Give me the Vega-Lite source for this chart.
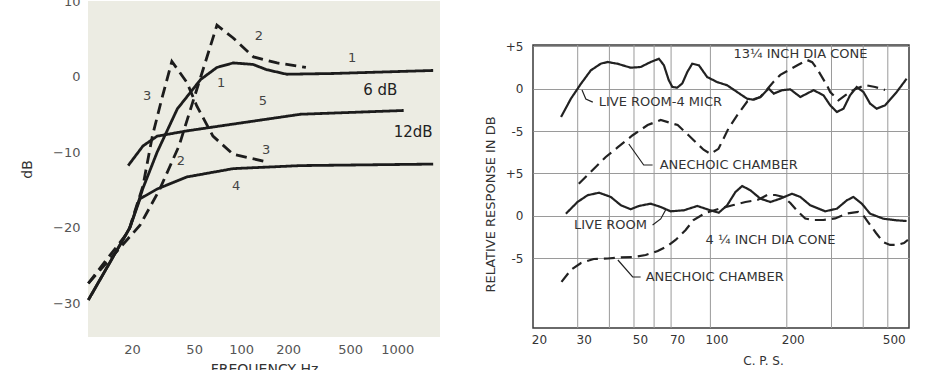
{
  "$schema": "https://vega.github.io/schema/vega-lite/v6.json",
  "padding": {"left": 20, "top": -5, "right": 0, "bottom": 0},
  "background": "white",
  "spacing": 43,
  "config": {"font": "DejaVu Sans", "view": {"stroke": null}},
  "datasets": {
    "left_curves": [
      {"curve": "1", "f": 10.5, "db": -29.6}, {"curve": "1", "f": 19.4, "db": -20}, {"curve": "1", "f": 23.5, "db": -14.8}, {"curve": "1", "f": 29, "db": -10}, {"curve": "1", "f": 39, "db": -4.3}, {"curve": "1", "f": 55, "db": -0.4}, {"curve": "1", "f": 70, "db": 1.2}, {"curve": "1", "f": 89, "db": 1.8}, {"curve": "1", "f": 119, "db": 1.6}, {"curve": "1", "f": 146, "db": 0.9}, {"curve": "1", "f": 196, "db": 0.3}, {"curve": "1", "f": 390, "db": 0.4}, {"curve": "1", "f": 1700, "db": 0.8},
      {"curve": "2", "f": 10.5, "db": -27.4}, {"curve": "2", "f": 22.5, "db": -19.7}, {"curve": "2", "f": 30, "db": -15}, {"curve": "2", "f": 40, "db": -9.2}, {"curve": "2", "f": 49, "db": -3.4}, {"curve": "2", "f": 57, "db": 0.9}, {"curve": "2", "f": 70, "db": 6.8}, {"curve": "2", "f": 89, "db": 5.1}, {"curve": "2", "f": 120, "db": 2.6}, {"curve": "2", "f": 170, "db": 1.8}, {"curve": "2", "f": 260, "db": 1.2},
      {"curve": "3", "f": 10.5, "db": -27.4}, {"curve": "3", "f": 19, "db": -20.5}, {"curve": "3", "f": 23.5, "db": -14.5}, {"curve": "3", "f": 27, "db": -7.9}, {"curve": "3", "f": 31, "db": -3}, {"curve": "3", "f": 36, "db": 2}, {"curve": "3", "f": 45, "db": -0.8}, {"curve": "3", "f": 52, "db": -3.9}, {"curve": "3", "f": 66, "db": -7.9}, {"curve": "3", "f": 89, "db": -10.3}, {"curve": "3", "f": 146, "db": -11.3},
      {"curve": "4", "f": 10.5, "db": -29.6}, {"curve": "4", "f": 19.4, "db": -20}, {"curve": "4", "f": 22.5, "db": -16.2}, {"curve": "4", "f": 29, "db": -14.9}, {"curve": "4", "f": 45, "db": -13.3}, {"curve": "4", "f": 89, "db": -12.2}, {"curve": "4", "f": 240, "db": -11.8}, {"curve": "4", "f": 1700, "db": -11.6},
      {"curve": "5", "f": 18.9, "db": -11.8}, {"curve": "5", "f": 23.5, "db": -9.2}, {"curve": "5", "f": 29, "db": -7.9}, {"curve": "5", "f": 45, "db": -7.2}, {"curve": "5", "f": 89, "db": -6.3}, {"curve": "5", "f": 240, "db": -5}, {"curve": "5", "f": 1100, "db": -4.5}
    ],
    "left_numbers": [
      {"t": "1", "f": 74.4, "db": -0.8}, {"t": "1", "f": 514, "db": 2.5}, {"t": "2", "f": 130, "db": 5.3}, {"t": "2", "f": 41.2, "db": -11.2}, {"t": "3", "f": 25, "db": -2.6}, {"t": "3", "f": 144.5, "db": -9.7}, {"t": "4", "f": 92.9, "db": -14.5}, {"t": "5", "f": 138, "db": -3.3}
    ],
    "left_db": [
      {"t": "6 dB", "f": 778, "db": -1.8}, {"t": "12dB", "f": 1265, "db": -7.4}
    ],
    "grid_x": [{"f": 30}, {"f": 40}, {"f": 50}, {"f": 60}, {"f": 70}, {"f": 100}, {"f": 200}, {"f": 300}, {"f": 400}, {"f": 500}],
    "top_curves": [
      {"curve": "live", "f": 25.8, "db": -3.35}, {"curve": "live", "f": 28.2, "db": -1.2}, {"curve": "live", "f": 30.9, "db": 0.56}, {"curve": "live", "f": 33.8, "db": 2.14}, {"curve": "live", "f": 37.0, "db": 2.92}, {"curve": "live", "f": 39.3, "db": 3.12}, {"curve": "live", "f": 43.0, "db": 2.92}, {"curve": "live", "f": 48.5, "db": 2.45}, {"curve": "live", "f": 53.1, "db": 2.53}, {"curve": "live", "f": 58.2, "db": 3.12}, {"curve": "live", "f": 62.7, "db": 3.5}, {"curve": "live", "f": 65.6, "db": 2.73}, {"curve": "live", "f": 68.5, "db": 1.0}, {"curve": "live", "f": 70.8, "db": 0.18}, {"curve": "live", "f": 74.0, "db": 0.1}, {"curve": "live", "f": 77.5, "db": 0.6}, {"curve": "live", "f": 81.1, "db": 1.94}, {"curve": "live", "f": 84.8, "db": 2.92}, {"curve": "live", "f": 90.1, "db": 2.73}, {"curve": "live", "f": 97.1, "db": 1.35}, {"curve": "live", "f": 106.3, "db": 0.76}, {"curve": "live", "f": 116.4, "db": 0.38}, {"curve": "live", "f": 127.4, "db": -0.41}, {"curve": "live", "f": 139.5, "db": -1.2}, {"curve": "live", "f": 148.2, "db": -1.32}, {"curve": "live", "f": 157.4, "db": -1.0}, {"curve": "live", "f": 169.7, "db": 0}, {"curve": "live", "f": 177.6, "db": -0.6}, {"curve": "live", "f": 191.5, "db": -0.2}, {"curve": "live", "f": 206.5, "db": -0.1}, {"curve": "live", "f": 226.1, "db": -1.0}, {"curve": "live", "f": 255, "db": -0.2}, {"curve": "live", "f": 279, "db": -0.8}, {"curve": "live", "f": 296.5, "db": -1.98}, {"curve": "live", "f": 315, "db": -2.76}, {"curve": "live", "f": 334.5, "db": -2.37}, {"curve": "live", "f": 355, "db": -0.8}, {"curve": "live", "f": 377, "db": 0.18}, {"curve": "live", "f": 401, "db": -0.41}, {"curve": "live", "f": 425.8, "db": -1.78}, {"curve": "live", "f": 452, "db": -2.37}, {"curve": "live", "f": 487.6, "db": -1.98}, {"curve": "live", "f": 542, "db": -0.41}, {"curve": "live", "f": 593, "db": 1.15},
      {"curve": "anechoic", "f": 30.3, "db": -11.2}, {"curve": "anechoic", "f": 35.4, "db": -9.2}, {"curve": "anechoic", "f": 38.7, "db": -8.06}, {"curve": "anechoic", "f": 43.2, "db": -6.9}, {"curve": "anechoic", "f": 49.4, "db": -5.5}, {"curve": "anechoic", "f": 56.6, "db": -4.3}, {"curve": "anechoic", "f": 63.7, "db": -3.7}, {"curve": "anechoic", "f": 74.3, "db": -4.3}, {"curve": "anechoic", "f": 82.0, "db": -5.5}, {"curve": "anechoic", "f": 87.4, "db": -6.3}, {"curve": "anechoic", "f": 94.0, "db": -7.2}, {"curve": "anechoic", "f": 100.1, "db": -7.7}, {"curve": "anechoic", "f": 107.6, "db": -7.1}, {"curve": "anechoic", "f": 112.6, "db": -5.9}, {"curve": "anechoic", "f": 117.8, "db": -4.7}, {"curve": "anechoic", "f": 127.8, "db": -3.1}, {"curve": "anechoic", "f": 139.9, "db": -1.5}, {"curve": "anechoic", "f": 157.4, "db": -1.0}, {"curve": "anechoic", "f": 177, "db": 0.76}, {"curve": "anechoic", "f": 188.6, "db": 1.6}, {"curve": "anechoic", "f": 222, "db": 2.8}, {"curve": "anechoic", "f": 240.7, "db": 3.35}, {"curve": "anechoic", "f": 251.8, "db": 3.1}, {"curve": "anechoic", "f": 263.5, "db": 2.3}, {"curve": "anechoic", "f": 287.8, "db": 0.38}, {"curve": "anechoic", "f": 296.5, "db": -0.41}, {"curve": "anechoic", "f": 319.6, "db": -1.39}, {"curve": "anechoic", "f": 339.6, "db": -0.8}, {"curve": "anechoic", "f": 370, "db": -0.1}, {"curve": "anechoic", "f": 406.9, "db": 0.41}, {"curve": "anechoic", "f": 445.5, "db": 0.18}, {"curve": "anechoic", "f": 487.6, "db": -0.18}
    ],
    "bottom_curves": [
      {"curve": "live", "f": 26.96, "db": 0.27}, {"curve": "live", "f": 29.96, "db": 1.65}, {"curve": "live", "f": 32.8, "db": 2.44}, {"curve": "live", "f": 36.4, "db": 2.74}, {"curve": "live", "f": 40.5, "db": 2.24}, {"curve": "live", "f": 44.4, "db": 1.26}, {"curve": "live", "f": 48.5, "db": 0.79}, {"curve": "live", "f": 52.3, "db": 1.18}, {"curve": "live", "f": 58.2, "db": 1.45}, {"curve": "live", "f": 63.7, "db": 1.06}, {"curve": "live", "f": 69.7, "db": 0.55}, {"curve": "live", "f": 78.6, "db": 0.67}, {"curve": "live", "f": 88.8, "db": 1.18}, {"curve": "live", "f": 97.1, "db": 0.79}, {"curve": "live", "f": 107.9, "db": 0.39}, {"curve": "live", "f": 116.4, "db": 1.26}, {"curve": "live", "f": 125.5, "db": 2.82}, {"curve": "live", "f": 133.4, "db": 3.53}, {"curve": "live", "f": 143.8, "db": 3.02}, {"curve": "live", "f": 157.4, "db": 2.04}, {"curve": "live", "f": 172.3, "db": 1.65}, {"curve": "live", "f": 188.6, "db": 2.04}, {"curve": "live", "f": 209.6, "db": 2.62}, {"curve": "live", "f": 226.1, "db": 2.24}, {"curve": "live", "f": 247.4, "db": 1.26}, {"curve": "live", "f": 283.4, "db": 0.55}, {"curve": "live", "f": 315, "db": 0.86}, {"curve": "live", "f": 345, "db": 1.85}, {"curve": "live", "f": 366, "db": 2.24}, {"curve": "live", "f": 395, "db": 1.45}, {"curve": "live", "f": 425.8, "db": 0.27}, {"curve": "live", "f": 480, "db": -0.32}, {"curve": "live", "f": 542, "db": -0.51}, {"curve": "live", "f": 593, "db": -0.59},
      {"curve": "anechoic", "f": 25.9, "db": -7.76}, {"curve": "anechoic", "f": 28.2, "db": -6.35}, {"curve": "anechoic", "f": 30.9, "db": -5.53}, {"curve": "anechoic", "f": 34.7, "db": -5.06}, {"curve": "anechoic", "f": 39.4, "db": -5.0}, {"curve": "anechoic", "f": 44.4, "db": -4.88}, {"curve": "anechoic", "f": 49.9, "db": -4.82}, {"curve": "anechoic", "f": 55.6, "db": -4.59}, {"curve": "anechoic", "f": 62.0, "db": -4.12}, {"curve": "anechoic", "f": 67.8, "db": -3.53}, {"curve": "anechoic", "f": 72.9, "db": -2.82}, {"curve": "anechoic", "f": 79.9, "db": -1.65}, {"curve": "anechoic", "f": 85.8, "db": -0.47}, {"curve": "anechoic", "f": 95.7, "db": 0.35}, {"curve": "anechoic", "f": 107.6, "db": 0.82}, {"curve": "anechoic", "f": 123.3, "db": 1.29}, {"curve": "anechoic", "f": 137.4, "db": 1.65}, {"curve": "anechoic", "f": 153.1, "db": 1.88}, {"curve": "anechoic", "f": 167.6, "db": 2.47}, {"curve": "anechoic", "f": 180.3, "db": 2.47}, {"curve": "anechoic", "f": 193.8, "db": 2.24}, {"curve": "anechoic", "f": 206.5, "db": 1.53}, {"curve": "anechoic", "f": 222, "db": 0.47}, {"curve": "anechoic", "f": 236.5, "db": -0.29}, {"curve": "anechoic", "f": 251.9, "db": -0.47}, {"curve": "anechoic", "f": 278.3, "db": -0.47}, {"curve": "anechoic", "f": 310.1, "db": -0.29}, {"curve": "anechoic", "f": 345.7, "db": 0.29}, {"curve": "anechoic", "f": 381.9, "db": 0.47}, {"curve": "anechoic", "f": 399.5, "db": 0.12}, {"curve": "anechoic", "f": 418.0, "db": -0.71}, {"curve": "anechoic", "f": 449.4, "db": -2.0}, {"curve": "anechoic", "f": 478.8, "db": -3.06}, {"curve": "anechoic", "f": 510.3, "db": -3.41}, {"curve": "anechoic", "f": 543.5, "db": -3.41}, {"curve": "anechoic", "f": 578.8, "db": -3.18}, {"curve": "anechoic", "f": 600, "db": -2.82}
    ],
    "top_leaders": [
      {"id": "a", "f": 31.2, "db": -0.18}, {"id": "a", "f": 32.3, "db": -1.24}, {"id": "a", "f": 34.4, "db": -1.6},
      {"id": "b", "f": 47.7, "db": -6.53}, {"id": "b", "f": 54.6, "db": -9.0}, {"id": "b", "f": 59.2, "db": -9.0}
    ],
    "bottom_leaders": [
      {"id": "c", "f": 59.2, "db": -1.06}, {"id": "c", "f": 63.7, "db": -0.35}, {"id": "c", "f": 66.6, "db": 0.71},
      {"id": "d", "f": 43.2, "db": -5.18}, {"id": "d", "f": 49.4, "db": -7.18}, {"id": "d", "f": 53.1, "db": -7.18}
    ],
    "top_text": [
      {"t": "LIVE ROOM-4 MICR", "f": 36.3, "db": -1.6}, {"t": "ANECHOIC  CHAMBER", "f": 63.1, "db": -9.0}, {"t": "13¼ INCH DIA CONE", "f": 123.3, "db": 4.06}
    ],
    "bottom_text": [
      {"t": "LIVE ROOM", "f": 29.0, "db": -1.06}, {"t": "4 ¼ INCH DIA CONE", "f": 95.7, "db": -2.82}, {"t": "ANECHOIC  CHAMBER", "f": 55.6, "db": -7.18}
    ]
  },
  "hconcat": [
    {
      "width": 352,
      "height": 336,
      "view": {"fill": "#ecece3", "stroke": null},
      "layer": [
        {
          "data": {"name": "left_curves"},
          "mark": {"type": "line", "color": "#1c1c1c", "strokeWidth": 2.8},
          "encoding": {
            "x": {"field": "f", "type": "quantitative", "scale": {"type": "log", "domain": [10.45, 1880], "nice": false},
              "axis": {"values": [20, 50, 100, 200, 500, 1000], "format": "d", "title": "FREQUENCY Hz", "grid": false, "domain": false, "ticks": false, "labelFlush": false, "labelPadding": 6, "labelFontSize": 13, "labelColor": "#555", "titleFontSize": 14, "titleFontWeight": "normal", "titleColor": "#333", "titlePadding": 6}},
            "y": {"field": "db", "type": "quantitative", "scale": {"domain": [-34.5, 10], "nice": false, "zero": false},
              "axis": {"values": [10, 0, -10, -20, -30], "title": "dB", "grid": false, "domain": false, "ticks": false, "labelPadding": 8, "labelFontSize": 13, "labelColor": "#555", "titleFontSize": 14, "titleFontWeight": "normal", "titleColor": "#333", "titlePadding": 18}},
            "detail": {"field": "curve"},
            "strokeDash": {"field": "curve", "type": "nominal", "scale": {"domain": ["1", "2", "3", "4", "5"], "range": [[1, 0], [11, 6], [11, 6], [1, 0], [1, 0]]}, "legend": null}
          }
        },
        {
          "data": {"name": "left_numbers"},
          "mark": {"type": "text", "fontSize": 13, "color": "#444", "align": "center", "baseline": "middle"},
          "encoding": {
            "x": {"field": "f", "type": "quantitative"},
            "y": {"field": "db", "type": "quantitative"},
            "text": {"field": "t"}
          }
        },
        {
          "data": {"name": "left_db"},
          "mark": {"type": "text", "fontSize": 15, "color": "#222", "align": "center", "baseline": "middle"},
          "encoding": {
            "x": {"field": "f", "type": "quantitative"},
            "y": {"field": "db", "type": "quantitative"},
            "text": {"field": "t"}
          }
        }
      ]
    },
    {
      "spacing": 20,
      "vconcat": [
        {
          "width": 376,
          "height": 18,
          "data": {"values": [{}]},
          "mark": {"type": "text", "text": ""},
          "view": {"stroke": null}
        },
        {
          "width": 376,
          "height": 283,
          "view": {"stroke": "#3a3a3a", "strokeWidth": 1.5, "fill": "white"},
          "resolve": {"scale": {"y": "independent"}},
          "layer": [
            {
              "data": {"name": "grid_x"},
              "mark": {"type": "rule", "color": "#9a9a9a", "strokeWidth": 1},
              "encoding": {
                "x": {"field": "f", "type": "quantitative", "scale": {"type": "log", "domain": [20, 606], "nice": false},
                  "axis": {"values": [20, 30, 50, 70, 100, 200, 500], "format": "d", "title": "C. P. S.", "grid": false, "domain": false, "ticks": false, "labelFlush": false, "labelPadding": 6, "labelOffset": 6, "labelFontSize": 12, "labelColor": "#333", "titleFontSize": 12, "titleFontWeight": "normal", "titleColor": "#333", "titlePadding": 10, "titleX": 230}}
              }
            },
            {
              "layer": [
                {
                  "data": {"name": "bottom_curves"},
                  "mark": {"type": "line", "color": "#222", "strokeWidth": 2.2},
                  "encoding": {
                    "x": {"field": "f", "type": "quantitative", "scale": {"type": "log", "domain": [20, 606], "nice": false}},
                    "y": {"field": "db", "type": "quantitative", "scale": {"domain": [-13.18, 20.12], "nice": false, "zero": false},
                      "axis": {"values": [-5, 0, 5, 10, 15, 20], "labelExpr": "datum.value == 20 ? '+5' : datum.value == 15 ? '0' : datum.value == 10 ? '-5' : datum.value == 5 ? '+5' : datum.value == 0 ? '0' : '-5'", "title": "RELATIVE RESPONSE IN DB", "grid": true, "gridColor": "#9a9a9a", "gridWidth": 1, "domain": false, "ticks": false, "labelPadding": 10, "labelFontSize": 12, "labelColor": "#333", "titleFontSize": 13, "titleFontWeight": "normal", "titleColor": "#333", "titlePadding": 8, "titleY": 159}},
                    "detail": {"field": "curve"},
                    "strokeDash": {"field": "curve", "type": "nominal", "scale": {"domain": ["live", "anechoic"], "range": [[1, 0], [24, 7]]}, "legend": null}
                  }
                },
                {
                  "data": {"name": "bottom_leaders"},
                  "mark": {"type": "line", "color": "#222", "strokeWidth": 1.2},
                  "encoding": {
                    "x": {"field": "f", "type": "quantitative", "scale": {"type": "log", "domain": [20, 606], "nice": false}},
                    "y": {"field": "db", "type": "quantitative"},
                    "detail": {"field": "id"}
                  }
                },
                {
                  "data": {"name": "bottom_text"},
                  "mark": {"type": "text", "fontSize": 13, "color": "#333", "align": "left", "baseline": "middle"},
                  "encoding": {
                    "x": {"field": "f", "type": "quantitative", "scale": {"type": "log", "domain": [20, 606], "nice": false}},
                    "y": {"field": "db", "type": "quantitative"},
                    "text": {"field": "t"}
                  }
                }
              ]
            },
            {
              "layer": [
                {
                  "data": {"name": "top_curves"},
                  "mark": {"type": "line", "color": "#222", "strokeWidth": 2.2},
                  "encoding": {
                    "x": {"field": "f", "type": "quantitative", "scale": {"type": "log", "domain": [20, 606], "nice": false}},
                    "y": {"field": "db", "type": "quantitative", "scale": {"domain": [-28.18, 5.12], "nice": false, "zero": false}, "axis": null},
                    "detail": {"field": "curve"},
                    "strokeDash": {"field": "curve", "type": "nominal", "scale": {"domain": ["live", "anechoic"], "range": [[1, 0], [24, 7]]}, "legend": null}
                  }
                },
                {
                  "data": {"name": "top_leaders"},
                  "mark": {"type": "line", "color": "#222", "strokeWidth": 1.2},
                  "encoding": {
                    "x": {"field": "f", "type": "quantitative", "scale": {"type": "log", "domain": [20, 606], "nice": false}},
                    "y": {"field": "db", "type": "quantitative"},
                    "detail": {"field": "id"}
                  }
                },
                {
                  "data": {"name": "top_text"},
                  "mark": {"type": "text", "fontSize": 13, "color": "#333", "align": "left", "baseline": "middle"},
                  "encoding": {
                    "x": {"field": "f", "type": "quantitative", "scale": {"type": "log", "domain": [20, 606], "nice": false}},
                    "y": {"field": "db", "type": "quantitative"},
                    "text": {"field": "t"}
                  }
                }
              ]
            }
          ]
        }
      ]
    }
  ]
}
